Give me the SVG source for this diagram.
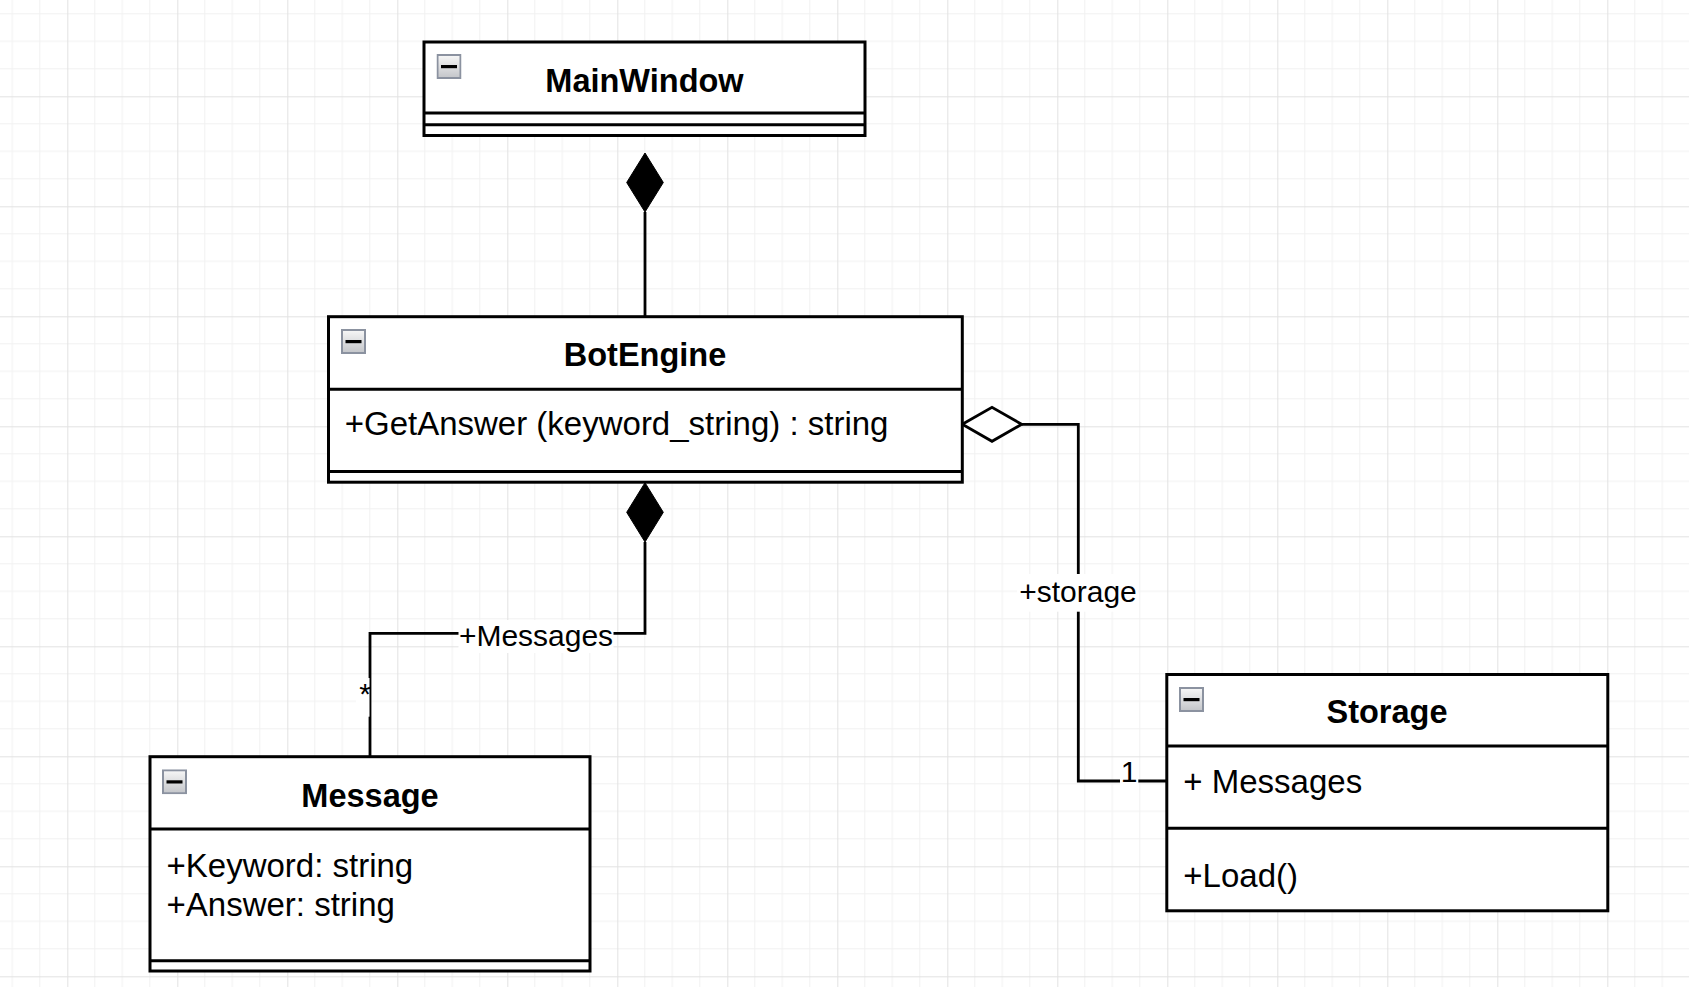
<svg xmlns="http://www.w3.org/2000/svg" xmlns:xlink="http://www.w3.org/1999/xlink" width="1689" height="987" viewBox="0 0 1689 987">
<style>
.box{fill:#fff;stroke:#000;stroke-width:3}
.sep{stroke:#000;stroke-width:3;fill:none}
.title{font-family:"Liberation Sans",Arial,sans-serif;font-weight:bold;font-size:32.5px;text-anchor:middle;fill:#000}
.member{font-family:"Liberation Sans",Arial,sans-serif;font-size:33px;fill:#000}
.label{font-family:"Liberation Sans",Arial,sans-serif;font-size:30px;fill:#000}
.conn{fill:none;stroke:#000;stroke-width:2.8}
.lbg{fill:#fff}
.minor{stroke:#f1f1f1;stroke-width:1}
.major{stroke:#e2e2e2;stroke-width:1}
</style>
<defs>
<pattern id="grid" patternUnits="userSpaceOnUse" x="67.3" y="96.3" width="110" height="110">
<path class="minor" d="M27.5 0V110M55 0V110M82.5 0V110M0 27.5H110M0 55H110M0 82.5H110"/>
<path class="major" d="M0.5 0V110M0 0.5H110"/>
</pattern>
<linearGradient id="iconGrad" x1="0" y1="0" x2="0" y2="1">
<stop offset="0" stop-color="#f7f7f7"/>
<stop offset="1" stop-color="#c3c5c9"/>
</linearGradient>
<symbol id="icon" viewBox="0 0 25 25" width="25" height="25">
<rect x="1" y="1" width="23" height="23" fill="url(#iconGrad)" stroke="#8b92a0" stroke-width="2"/>
<rect x="4.5" y="11" width="16" height="3.2" fill="#000"/>
</symbol>
</defs>
<rect x="0" y="0" width="1689" height="987" fill="#fff"/>
<rect x="0" y="0" width="1689" height="987" fill="url(#grid)"/>

<g id="connectors">
<g id="conn-main-bot">
<path class="conn" d="M645 212V316.7"/>
<polygon points="645,153 663.3,182.5 645,212 626.7,182.5" fill="#000" stroke="#000" stroke-width="1"/>
</g>
<g id="conn-bot-message">
<path class="conn" d="M645 542V633.3H370V756.7"/>
<polygon points="645,482.7 663.3,512.3 645,542 626.7,512.3" fill="#000" stroke="#000" stroke-width="1"/>
<rect class="lbg" x="458.5" y="620" width="155" height="33"/>
<text class="label" x="536" y="646" text-anchor="middle">+Messages</text>
<rect class="lbg" x="356" y="678" width="13.5" height="38.7"/>
<text class="label" x="371" y="704" text-anchor="end">*</text>
</g>
<g id="conn-bot-storage">
<path class="conn" d="M1021.7 424.3H1078.3V781H1166.8"/>
<polygon points="962.3,424.3 992,407.3 1021.7,424.3 992,441.3" fill="#fff" stroke="#000" stroke-width="2.8" stroke-linejoin="miter"/>
<rect class="lbg" x="1017" y="574" width="121" height="37.7"/>
<text class="label" x="1078" y="601.7" text-anchor="middle">+storage</text>
<rect class="lbg" x="1120" y="760" width="18.3" height="30"/>
<text class="label" x="1129" y="781.7" text-anchor="middle">1</text>
</g>
</g>

<g id="node-mainwindow">
<rect class="box" x="424" y="42" width="441" height="93.5"/>
<path class="sep" d="M424 113H865M424 124.7H865"/>
<use href="#icon" xlink:href="#icon" x="436.5" y="54"/>
<text class="title" x="644.5" y="91.7">MainWindow</text>
</g>

<g id="node-botengine">
<rect class="box" x="328.5" y="316.7" width="633.8" height="165.5"/>
<path class="sep" d="M328.5 389.3H962.3M328.5 471.5H962.3"/>
<use href="#icon" xlink:href="#icon" x="341" y="329"/>
<text class="title" x="645" y="365.7">BotEngine</text>
<text class="member" x="344.7" y="435">+GetAnswer (keyword_string) : string</text>
</g>

<g id="node-message">
<rect class="box" x="150" y="756.7" width="440" height="214.3"/>
<path class="sep" d="M150 829H590M150 960.7H590"/>
<use href="#icon" xlink:href="#icon" x="162" y="769.3"/>
<text class="title" x="370" y="806.7">Message</text>
<text class="member" x="166.5" y="876.7">+Keyword: string</text>
<text class="member" x="166.5" y="915.7">+Answer: string</text>
</g>

<g id="node-storage">
<rect class="box" x="1166.8" y="674.5" width="441" height="236.3"/>
<path class="sep" d="M1166.8 746H1607.8M1166.8 828.3H1607.8"/>
<use href="#icon" xlink:href="#icon" x="1179" y="687"/>
<text class="title" x="1387" y="722.7">Storage</text>
<text class="member" x="1183.3" y="793.3">+ Messages</text>
<text class="member" x="1183.3" y="887.3">+Load()</text>
</g>
</svg>
